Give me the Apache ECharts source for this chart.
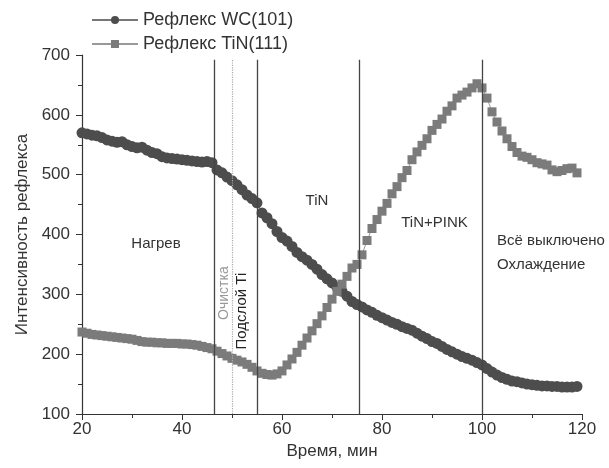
<!DOCTYPE html>
<html>
<head>
<meta charset="utf-8">
<script src="https://cdn.jsdelivr.net/npm/echarts@6.0.0/dist/echarts.min.js"></script>
<style>
  html, body { margin: 0; padding: 0; background: #fff; }
  #chart { width: 609px; height: 468px; }
</style>
</head>
<body>
<div id="chart"></div>
<script>
// время, мин
const time = [
  20, 21, 22, 23, 24, 25, 26, 27, 28, 29,
  30, 31, 32, 33, 34, 35, 36, 37, 38, 39,
  40, 41, 42, 43, 44, 45, 46, 47, 48, 49,
  50, 51, 52, 53, 54, 55, 56, 57, 58, 59,
  60, 61, 62, 63, 64, 65, 66, 67, 68, 69,
  70, 71, 72, 73, 74, 75, 76, 77, 78, 79,
  80, 81, 82, 83, 84, 85, 86, 87, 88, 89,
  90, 91, 92, 93, 94, 95, 96, 97, 98, 99,
  100, 101, 102, 103, 104, 105, 106, 107, 108, 109,
  110, 111, 112, 113, 114, 115, 116, 117, 118, 119
];

// Рефлекс WC(101)
const wc = [
  570, 568, 566, 565, 562, 558, 556, 554, 555, 550,
  547, 545, 546, 541, 537, 535, 530, 528, 527, 526,
  525, 524, 523, 522, 521, 522, 520, 508, 503, 496,
  490, 483, 475, 466, 460, 453, 436, 428, 418, 405,
  395, 389, 380, 370, 363, 357, 350, 342, 333, 326,
  319, 312, 305, 297, 288, 283, 279, 274, 270, 265,
  261, 257, 253, 250, 246, 243, 240, 235, 230, 226,
  221, 218, 213, 208, 204, 200, 196, 193, 190, 186,
  182, 176, 170, 165, 161, 158, 155, 154, 152, 150,
  149, 148, 147, 147, 146, 146, 145, 145, 145, 146
];

// Рефлекс TiN(111)
const tin = [
  237, 235, 233, 232, 231, 230, 229, 228, 227, 226,
  225, 223, 221, 220, 220, 219, 219, 218, 218, 218,
  217, 217, 216, 215, 213, 211, 209, 205, 201, 197,
  193, 190, 187, 183, 178, 172, 168, 166, 165, 167,
  172, 182, 192, 203, 215, 227, 239, 251, 264, 278,
  292, 305, 317, 330, 344, 350, 366, 390, 410, 425,
  439, 452, 468, 480, 495, 507, 525, 538, 549, 560,
  574, 584, 593, 606, 615, 628, 633, 638, 645, 652,
  645, 628, 605, 588, 573, 560, 547, 537, 531, 529,
  525, 520, 518, 516, 508, 505, 507, 510, 511, 503
];

// границы этапов процесса, мин
const stageLines = [46.5, 50, 55, 75.5, 100];

// подписи этапов
const stageNames = ['Нагрев', 'Очистка', 'Подслой Ti', 'TiN', 'TiN+PINK', 'Всё выключено', 'Охлаждение'];
const stageAt = [[34.8, 384], [48.4, 302], [52, 272], [67, 457], [90.5, 420], [103, 390], [103, 350]];

const chart = echarts.init(document.getElementById('chart'));

const textFont = 'Liberation Sans, Arial, sans-serif';

const noteStyle = [
  { fontSize: 15, color: '#333' },
  { fontSize: 14, color: '#999', rotate: 90 },
  { fontSize: 15, color: '#222', rotate: 90 },
  { fontSize: 15, color: '#333' },
  { fontSize: 15, color: '#333' },
  { fontSize: 15, color: '#333', align: 'left' },
  { fontSize: 15, color: '#333', align: 'left' }
];

chart.setOption({
  animation: false,
  textStyle: { fontFamily: textFont },
  legend: {
    orient: 'vertical',
    left: 86,
    top: 6,
    itemGap: 6,
    itemWidth: 46,
    itemHeight: 10,
    textStyle: { fontSize: 18, color: '#333', fontFamily: textFont },
    data: ['Рефлекс WC(101)', 'Рефлекс TiN(111)']
  },
  grid: { left: 82, right: 27, top: 55, bottom: 54 },
  xAxis: {
    type: 'value',
    min: 20,
    max: 120,
    interval: 20,
    name: 'Время, мин',
    nameLocation: 'middle',
    nameGap: 23,
    nameTextStyle: { fontSize: 17, color: '#333' },
    axisLine: { lineStyle: { color: '#333', width: 1.2 } },
    axisTick: { length: 6, lineStyle: { color: '#333' } },
    minorTick: { show: true, splitNumber: 2, length: 4, lineStyle: { color: '#333' } },
    axisLabel: { fontSize: 17, color: '#333', margin: 7 },
    splitLine: { show: false }
  },
  yAxis: {
    type: 'value',
    min: 100,
    max: 700,
    interval: 100,
    name: 'Интенсивность рефлекса',
    nameLocation: 'middle',
    nameGap: 45,
    nameTextStyle: { fontSize: 17, color: '#333' },
    axisLine: { show: true, lineStyle: { color: '#333', width: 1.2 } },
    axisTick: { show: true, length: 6, lineStyle: { color: '#333' } },
    minorTick: { show: true, splitNumber: 2, length: 4, lineStyle: { color: '#333' } },
    axisLabel: { fontSize: 17, color: '#333', margin: 12 },
    splitLine: { show: false }
  },
  series: [
    {
      name: 'Рефлекс WC(101)',
      type: 'line',
      data: time.map((t, i) => [t, wc[i]]),
      symbol: 'circle',
      symbolSize: 11,
      itemStyle: { color: '#4d4d4d' },
      lineStyle: { color: '#777', width: 1 },
      markLine: {
        silent: true,
        symbol: 'none',
        label: { show: false },
        data: stageLines.map(x => [
          { coord: [x, 100], lineStyle: x === 50 ? { color: '#aaa', type: 'dotted', width: 1.2 } : { color: '#444', type: 'solid', width: 1.3 } },
          { coord: [x, 692] }
        ])
      },
      z: 2
    },
    {
      name: 'Рефлекс TiN(111)',
      type: 'line',
      data: time.map((t, i) => [t, tin[i]]),
      symbol: 'rect',
      symbolSize: 9,
      itemStyle: { color: '#7b7b7b' },
      lineStyle: { color: '#999', width: 1 },
      z: 3,
      markPoint: {
        silent: true,
        symbol: 'circle',
        symbolSize: 0,
        data: stageNames.map((name, i) => ({
          name: name,
          coord: stageAt[i],
          label: Object.assign({
            show: true,
            position: 'inside',
            formatter: name,
            fontFamily: textFont
          }, noteStyle[i])
        }))
      }
    }
  ]
});
</script>
</body>
</html>
